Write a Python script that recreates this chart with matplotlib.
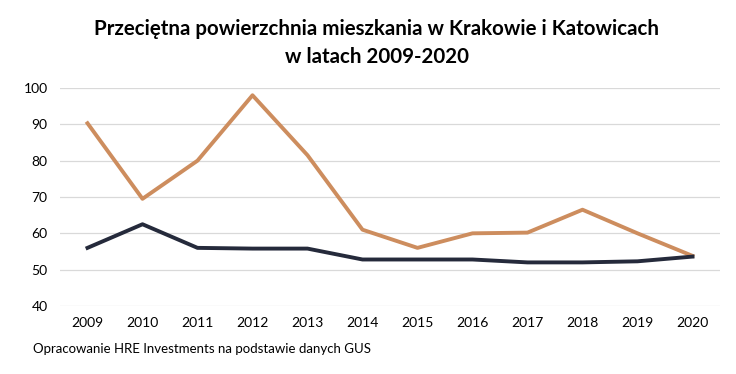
import matplotlib
matplotlib.use("Agg")
import matplotlib.pyplot as plt

years = [2009, 2010, 2011, 2012, 2013, 2014, 2015, 2016, 2017, 2018, 2019, 2020]
krakow = [90.3, 69.5, 80.0, 98.0, 81.5, 61.0, 56.0, 60.0, 60.2, 66.5, 60.0, 53.8]
katowice = [56.0, 62.5, 56.0, 55.8, 55.8, 52.8, 52.8, 52.8, 52.0, 52.0, 52.3, 53.6]
yticks = [40, 50, 60, 70, 80, 90, 100]
title = "Przeciętna powierzchnia mieszkania w Krakowie i Katowicach\nw latach 2009-2020"
source = "Opracowanie HRE Investments na podstawie danych GUS"

plt.rcParams['font.family'] = ['Lato', 'DejaVu Sans']

fig = plt.figure(figsize=(7.36, 3.74), dpi=100)
ax = fig.add_axes([60/736, 1-306/374, 660/736, 218/374])

ax.plot(years, krakow, color='#CD8D5E', lw=2.8, zorder=3)
ax.plot(years, katowice, color='#252A3B', lw=2.8, zorder=4)

ax.set_xlim(2008.5, 2020.5)
ax.set_ylim(40, 100)
ax.set_yticks(yticks)
ax.set_xticks(years)
ax.set_xticklabels([str(y) for y in years])
ax.grid(axis='y', color='#D9D9D9', lw=0.9)
ax.set_axisbelow(True)
for s in ax.spines.values():
    s.set_visible(False)
ax.tick_params(axis='both', length=0, labelsize=10, colors='#000000')
ax.tick_params(axis='y', pad=9)
ax.tick_params(axis='x', pad=8)

fig.text(377/736, 1-43/374, title, ha='center', va='center', fontsize=14.8,
         fontweight='bold', linespacing=1.5)
fig.text(33/736, 1-349/374, source, ha='left', va='center', fontsize=9.5)

fig.savefig("out.png", dpi=100, facecolor='white')
